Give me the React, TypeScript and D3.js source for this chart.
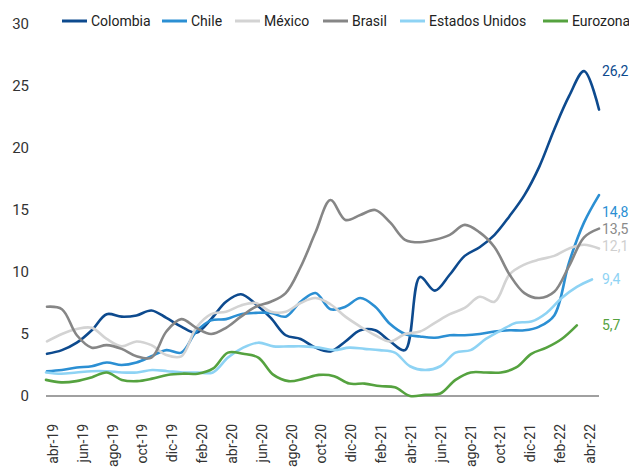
import React from "react";
import * as d3 from "d3";

const months = [
  "abr-19","may-19","jun-19","jul-19","ago-19","sep-19","oct-19","nov-19","dic-19",
  "ene-20","feb-20","mar-20","abr-20","may-20","jun-20","jul-20","ago-20","sep-20","oct-20","nov-20","dic-20",
  "ene-21","feb-21","mar-21","abr-21","may-21","jun-21","jul-21","ago-21","sep-21","oct-21","nov-21","dic-21",
  "ene-22","feb-22","mar-22","abr-22",
];
const tickLabels = months.filter((_, i) => i % 2 === 0);
const yTicks = [0, 5, 10, 15, 20, 25, 30];

const colombia = [3.4,3.7,4.3,5.3,6.6,6.4,6.5,6.9,6.3,5.6,5.1,6.2,7.6,8.2,7.4,6.3,4.9,4.6,3.9,3.6,4.4,5.3,5.3,4.4,3.7,9.6,8.5,9.8,11.3,12.0,13.0,14.5,16.2,18.5,21.5,24.2,26.2,23.1];
const chile = [2.0,2.1,2.3,2.4,2.7,2.5,2.7,3.2,3.7,3.5,5.2,6.1,6.2,6.6,6.7,6.7,6.4,7.6,8.3,7.0,7.2,7.9,7.2,5.8,5.0,4.8,4.7,4.9,4.9,5.0,5.2,5.3,5.3,5.6,6.5,10.8,14.0,16.2];
const mexico = [4.4,5.0,5.4,5.5,4.6,4.0,4.4,4.1,3.3,3.2,5.5,6.6,6.8,7.3,7.5,6.8,6.8,7.5,7.9,7.4,6.4,5.6,4.9,4.4,5.0,5.2,5.9,6.6,7.1,8.0,7.6,9.8,10.6,11.0,11.3,11.9,12.2,11.9];
const brasil = [7.2,7.0,4.9,3.9,4.1,3.8,3.2,3.1,5.2,6.2,5.5,5.0,5.5,6.4,7.2,7.6,8.3,10.4,13.2,15.8,14.2,14.6,15.0,14.0,12.6,12.4,12.6,13.0,13.8,13.2,12.0,9.8,8.3,7.9,8.4,10.5,12.8,13.5];
const estadosUnidos = [1.9,1.8,1.9,2.0,2.0,1.9,1.9,2.1,2.0,1.9,1.9,1.9,3.1,3.9,4.3,4.0,4.0,4.0,3.9,3.7,3.9,3.8,3.7,3.5,2.4,2.1,2.4,3.5,3.7,4.6,5.3,5.9,6.0,6.7,7.9,8.8,9.4];
const eurozona = [1.3,1.1,1.2,1.5,1.9,1.3,1.2,1.4,1.7,1.8,1.8,2.2,3.5,3.4,3.1,1.7,1.2,1.4,1.7,1.6,1.0,1.0,0.8,0.7,0.0,0.1,0.2,1.3,1.9,1.9,1.9,2.3,3.4,3.9,4.6,5.7];

const seriesNames = ["Colombia", "Chile", "México", "Brasil", "Estados Unidos", "Eurozona"];
const seriesValues = [colombia, chile, mexico, brasil, estadosUnidos, eurozona];
const seriesColors = ["#0d4a8e", "#2b8fd3", "#d3d3d3", "#868686", "#8ed3f4", "#55a23f"];
const seriesAxis = ["a", "a", "a", "a", "b", "b"];
const endLabels = ["26,2", "14,8", "13,5", "12,1", "9,4", "5,7"];
const endLabelValues = [26.2, 14.8, 13.5, 12.1, 9.4, 5.7];
const endLabelColors = ["#0d4a8e", "#2b8fd3", "#8a8a8a", "#cfcfcf", "#8ed3f4", "#55a23f"];

const W = 629;
const H = 469;
const font = "Roboto, 'Liberation Sans', Arial, sans-serif";

export default function App() {
  const y = d3.scaleLinear().domain([0, 30]).range([396, 24]);
  const xa = d3.scaleLinear().domain([0, 37]).range([47, 599]);
  const xb = d3.scaleLinear().domain([0, 36]).range([46, 592]);
  const xl = d3.scalePoint<string>().domain(months).range([53, 590]);

  const lineFor = (axis: string) =>
    d3
      .line<number>()
      .x((_, i) => (axis === "a" ? xa(i) : xb(i)))
      .y((d) => y(d))
      .curve(d3.curveCatmullRom.alpha(0.5));

  const legendX = [62, 162, 235, 323, 400, 543];

  return (
    <svg
      width={W}
      height={H}
      style={{ position: "absolute", left: 0, top: 0, background: "#fff" }}
      fontFamily={font}
    >
      {/* y tick labels */}
      {yTicks.map((t) => (
        <text key={t} x={29} y={y(t)} dy="0.35em" textAnchor="end" fontSize={15} fill="#333">
          {t}
        </text>
      ))}
      {/* baseline */}
      <line x1={46} x2={599} y1={y(0)} y2={y(0)} stroke="#808080" strokeWidth={1.5} />
      {/* x labels */}
      {tickLabels.map((m) => (
        <text
          key={m}
          transform={`translate(${xl(m)},424) rotate(-90)`}
          dy="0.35em"
          textAnchor="end"
          fontSize={14}
          fill="#333"
        >
          {m}
        </text>
      ))}
      {/* lines */}
      {seriesValues.map((vals, si) => (
        <path
          key={seriesNames[si]}
          d={lineFor(seriesAxis[si])(vals) || ""}
          fill="none"
          stroke={seriesColors[si]}
          strokeWidth={2.6}
          strokeLinejoin="round"
          strokeLinecap="round"
        />
      ))}
      {/* end labels */}
      {endLabels.map((l, i) => (
        <text key={l} x={602} y={y(endLabelValues[i])} dy="0.35em" fontSize={14} fill={endLabelColors[i]}>
          {l}
        </text>
      ))}
      {/* legend */}
      {seriesNames.map((n, i) => (
        <g key={n}>
          <line x1={legendX[i]} x2={legendX[i] + 25} y1={21} y2={21} stroke={seriesColors[i]} strokeWidth={3} />
          <text x={legendX[i] + 29} y={21} dy="0.35em" fontSize={14} fill="#222">
            {n}
          </text>
        </g>
      ))}
    </svg>
  );
}
